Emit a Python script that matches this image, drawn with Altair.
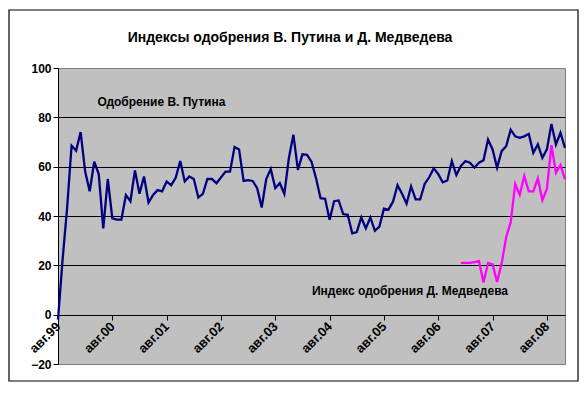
import altair as alt
import pandas as pd

chart_title = "Индексы одобрения В. Путина и Д. Медведева"
tick_labels = ["авг.99", "авг.00", "авг.01", "авг.02", "авг.03",
               "авг.04", "авг.05", "авг.06", "авг.07", "авг.08"]
y_ticks = [-20, 0, 20, 40, 60, 80, 100]

# monthly values, Aug 1999 .. Dec 2008
putin = [-2, 22, 43, 68.5, 66.5, 74, 58, 50, 62, 57,
         35, 55, 39, 38.5, 38.5, 48.5, 46, 58.5, 49, 56,
         45.5, 48.5, 50.5, 50, 54, 52.5, 55.5, 62.3, 54, 56,
         55, 47.5, 49, 55, 55, 53.3, 55.6, 58, 58, 68,
         67, 54.2, 54.5, 54.2, 51.3, 43.4, 55, 59, 51.3, 53.3,
         49, 63.4, 73, 58.7, 65, 64.8, 62, 55.3, 47.2, 47,
         38.5, 46, 46.3, 40.8, 40.5, 33, 33.5, 39.4, 35, 39.4,
         34, 35.7, 43, 42.6, 45.8, 52.5, 49, 45, 52, 46.7,
         46.7, 53, 55.7, 59.3, 57, 53.7, 54.4, 62.3, 56.6, 60.3,
         62.3, 61.6, 59.6, 61.6, 62.6, 71, 67, 59.6, 66.3, 68.3,
         75, 72.3, 71.7, 72.3, 73.3, 65.6, 69, 63.6, 67, 77.3,
         69, 73.7, 67.6]
# monthly values, Jan 2007 .. Dec 2008
medvedev_start = 89
medvedev = [21, 21, 21, 21.3, 21.7, 13, 21, 20.4, 13.3, 20.7,
            31.4, 37.4, 53, 48.6, 56.2, 50, 50, 55.3, 46.4, 51,
            68.7, 57.6, 60.7, 54.9]

putin_label = "Одобрение В. Путина"
putin_label_pos = (8.7, 86.2)
medvedev_label = "Индекс одобрения Д. Медведева"
medvedev_label_pos = (56.1, 9.4)

FONT = "Liberation Sans"

df_p = pd.DataFrame({"m": list(range(len(putin))), "v": putin})
df_m = pd.DataFrame({"m": list(range(medvedev_start, medvedev_start + len(medvedev))),
                     "v": medvedev})
df_lab = pd.DataFrame({
    "m": [putin_label_pos[0], medvedev_label_pos[0]],
    "v": [putin_label_pos[1], medvedev_label_pos[1]],
    "t": [putin_label, medvedev_label],
})

x_scale = alt.Scale(domain=[0, len(putin) - 1], nice=False, zero=False)
y_scale = alt.Scale(domain=[y_ticks[0], y_ticks[-1]], nice=False)

label_expr = "[" + ",".join("'%s'" % t for t in tick_labels) + "][round(datum.value/12)]"

x_axis = alt.Axis(
    values=[i * 12 for i in range(len(tick_labels))],
    labelExpr=label_expr, labelAngle=-45, labelAlign="right", labelBaseline="middle",
    offset=-49, grid=False, domainColor="black", domainWidth=1,
    tickColor="black", tickSize=5, labelFont=FONT, labelFontWeight="bold",
    labelFontSize=13, labelColor="black", labelPadding=4, title=None,
)
y_axis = alt.Axis(
    values=y_ticks, grid=True,
    gridColor={"condition": {"test": "datum.value == 100 || datum.value == -20",
                             "value": "#808080"}, "value": "black"},
    gridWidth=1, domainColor="black", domainWidth=1, tickColor="black", tickSize=5,
    labelFont=FONT, labelFontWeight="bold", labelFontSize=12, labelColor="black",
    labelPadding=2, title=None,
)

base_x = alt.X("m:Q", scale=x_scale, axis=x_axis)
base_y = alt.Y("v:Q", scale=y_scale, axis=y_axis)

line_p = alt.Chart(df_p).mark_line(color="#000080", strokeWidth=2.3).encode(x=base_x, y=base_y)
line_m = alt.Chart(df_m).mark_line(color="#FF00FF", strokeWidth=2.3).encode(
    x=alt.X("m:Q", scale=x_scale), y=alt.Y("v:Q", scale=y_scale))
labels = alt.Chart(df_lab).mark_text(
    align="left", baseline="middle", font=FONT, fontWeight="bold", fontSize=12, color="black"
).encode(x=alt.X("m:Q", scale=x_scale), y=alt.Y("v:Q", scale=y_scale), text="t:N")

title_mark = alt.Chart(pd.DataFrame({"t": [chart_title]})).mark_text(
    align="center", baseline="middle", font=FONT, fontWeight="bold", fontSize=14, color="black"
).encode(x=alt.value(232), y=alt.value(-30), text="t:N")

frame = alt.Chart(pd.DataFrame({"a": [0]})).mark_rect(
    fill="transparent", stroke="black", strokeWidth=1.2
).encode(x=alt.value(-49), x2=alt.value(520), y=alt.value(-58), y2=alt.value(313))

chart = alt.layer(line_p, line_m, labels, title_mark, frame).properties(
    width=507, height=296,
    autosize=alt.AutoSizeParams(type="none"),
    padding={"left": 50, "top": 60, "right": 14, "bottom": 21},
    background="white",
).configure_view(
    fill="#C0C0C0", stroke="#808080", strokeWidth=1
)

chart.save("out.html", embed_options={"renderer": "svg", "actions": False})
